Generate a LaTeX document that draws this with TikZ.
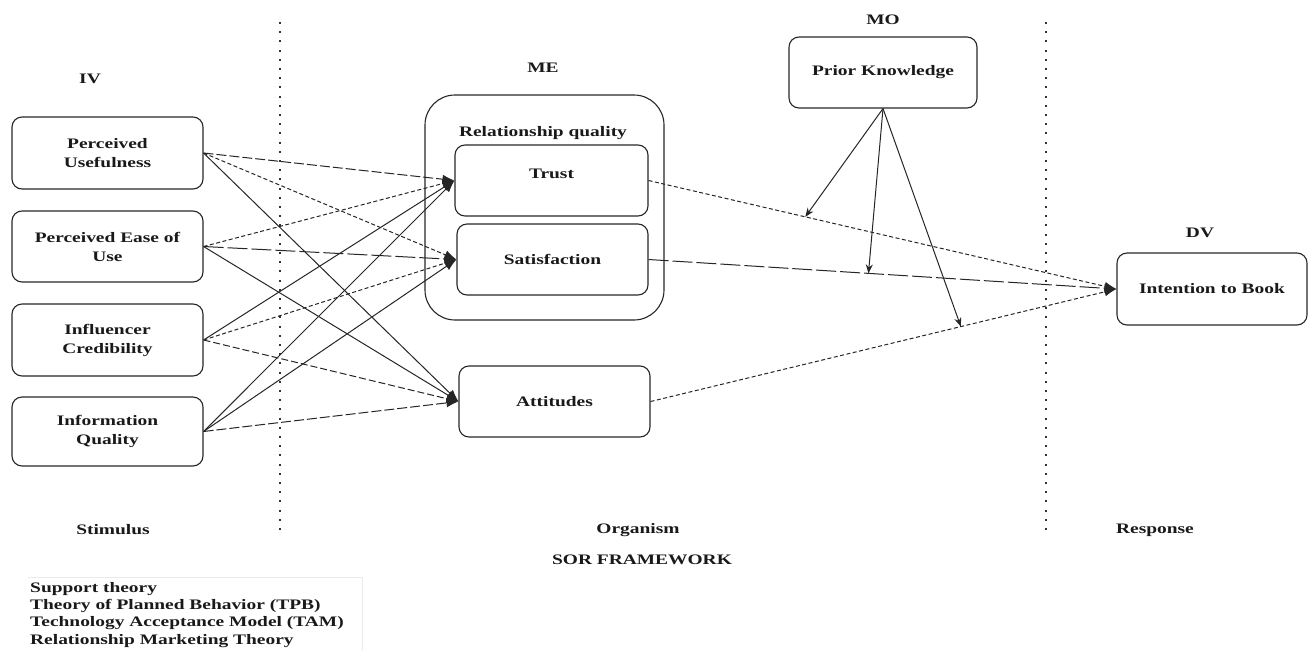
\documentclass[tikz,border=0pt]{standalone}
\usepackage{fontspec}
\setmainfont{Liberation Serif}[FakeStretch=1.34]
\usetikzlibrary{arrows.meta}
\begin{document}
\begin{tikzpicture}[x=1pt,y=-1pt,
  every node/.style={font=\fontsize{14.5}{19}\selectfont\bfseries, text=black!90},
  box/.style={draw=black!85, line width=1.1pt, rounded corners=10pt, inner sep=0pt, align=center},
  lbl/.style={inner sep=0pt},
  con/.style={line width=1pt, draw=black!85, -{Latex[length=12pt,width=9pt]}},
  ds/.style={dash pattern=on 4pt off 2.5pt},
  dm/.style={dash pattern=on 7pt off 3pt},
  dl/.style={dash pattern=on 10pt off 3pt},
  dv/.style={dash pattern=on 20pt off 4pt},
  sepline/.style={line width=2pt, dash pattern=on 2pt off 7.2pt, draw=black!80},
  modarrow/.style={line width=1pt, draw=black!85, -{Stealth[length=9pt,width=7pt]}},
]
\useasboundingbox (0,0) rectangle (1314,651);

% separators
\coordinate (s1t) at (280,22); \coordinate (s1b) at (280,533);
\coordinate (s2t) at (1046,22); \coordinate (s2b) at (1046,533);
\draw[sepline] (s1t) -- (s1b);
\draw[sepline] (s2t) -- (s2b);

% headers
\node[lbl] (IV) at (90,79) {IV};
\node[lbl] (ME) at (543,68) {ME};
\node[lbl] (MO) at (883,20) {MO};
\node[lbl] (DV) at (1200,233) {DV};

% IV boxes
\node[box, minimum width=191, minimum height=72] (PU) at (107.5,153) {Perceived\\Usefulness};
\node[box, minimum width=191, minimum height=71] (PE) at (107.5,246.5) {Perceived Ease of\\Use};
\node[box, minimum width=191, minimum height=72] (IC) at (107.5,340) {Influencer\\Credibility};
\node[box, minimum width=191, minimum height=69] (IQ) at (107.5,431.5) {Information\\Quality};

% ME
\node[box, rounded corners=30pt, minimum width=239, minimum height=225] (RQ) at (544.5,207.5) {};
\node[lbl] (RQt) at (543,133) {Relationship quality};
\node[box, minimum width=193, minimum height=71] (T) at (551.5,180.5) {};
\node[lbl] (Tt) at ([yshift=7pt]T.center) {Trust};
\node[box, minimum width=191, minimum height=71] (S) at (552.5,259.5) {Satisfaction};
\node[box, minimum width=191, minimum height=71] (A) at (554.5,401.5) {Attitudes};

% MO and DV
\node[box, minimum width=188, minimum height=71] (PK) at (883,72.5) {Prior Knowledge};
\node[box, minimum width=190, minimum height=72] (I) at (1212,289) {Intention to Book};

% IV -> ME
\draw[con,dl] (PU.east) -- (T.west);
\draw[con,ds] (PU.east) -- (S.west);
\draw[con] (PU.east) -- (A.west);
\draw[con,ds] (PE.east) -- (T.west);
\draw[con,dv] (PE.east) -- (S.west);
\draw[con] (PE.east) -- (A.west);
\draw[con] (IC.east) -- (T.west);
\draw[con,ds] (IC.east) -- (S.west);
\draw[con,dm] (IC.east) -- (A.west);
\draw[con] (IQ.east) -- (T.west);
\draw[con] (IQ.east) -- (S.west);
\draw[con,dl] (IQ.east) -- (A.west);

% ME -> DV
\draw[con,ds] (T.east) -- (I.west);
\draw[con,dv] (S.east) -- (I.west);
\draw[con,ds] (A.east) -- (I.west);

% moderation
\path (T.east) -- (I.west) coordinate[pos=0.335] (m1);
\path (S.east) -- (I.west) coordinate[pos=0.47] (m2);
\path (A.east) -- (I.west) coordinate[pos=0.666] (m3);
\draw[modarrow] (PK.south) -- (m1);
\draw[modarrow] (PK.south) -- (m2);
\draw[modarrow] (PK.south) -- (m3);

% bottom labels
\node[lbl] (stim) at (113,530) {Stimulus};
\node[lbl] (org) at (638,530) {Organism};
\node[lbl] (resp) at (1155,530) {Response};
\node[lbl] (sor) at (642,560) {SOR FRAMEWORK};

% theories
\draw[black!8, line width=0.6pt] (28,577) -- (362,577) -- (362,651);
\node[lbl, anchor=base west] (th1) at (30,592) {Support theory};
\node[lbl, anchor=base west] (th2) at (30,609) {Theory of Planned Behavior (TPB)};
\node[lbl, anchor=base west] (th3) at (30,626) {Technology Acceptance Model (TAM)};
\node[lbl, anchor=base west] (th4) at (30,644) {Relationship Marketing Theory};
\end{tikzpicture}
\end{document}
